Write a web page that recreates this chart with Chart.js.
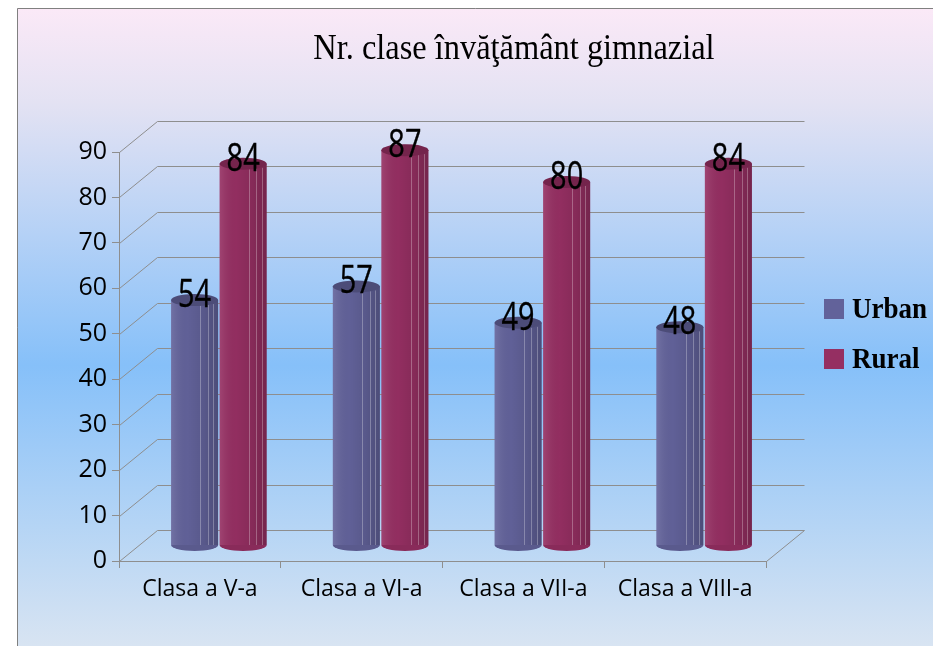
<!DOCTYPE html>
<html>
<head>
<meta charset="utf-8">
<script src="https://cdn.jsdelivr.net/npm/chart.js@4"></script>
<style>
  html, body { margin: 0; padding: 0; background: #fff; }
  #wrap { width: 933px; height: 646px; }
</style>
</head>
<body>
<div id="wrap"><canvas id="chart" width="933" height="646"></canvas></div>
<script>
// Date
const categories = ['Clasa a V-a', 'Clasa a VI-a', 'Clasa a VII-a', 'Clasa a VIII-a'];
const urbanValues = [54, 57, 49, 48];
const ruralValues = [84, 87, 80, 84];
const seriesNames = ['Urban', 'Rural'];
const titleText = 'Nr. clase învăţământ gimnazial';

const colUrban = '#62629a';
const colRural = '#952f62';
const gridColor = '#8e8e8e';

// adancimea 3D (perete din spate)
const DX = 38, DY = -31;

// fundal cu gradient + chenar
const bgPlugin = {
    id: 'bg',
    beforeDraw(chart) {
        const { ctx, width, height } = chart;
        ctx.save();
        ctx.fillStyle = '#ffffff';
        ctx.fillRect(0, 0, width, height);
        const g = ctx.createLinearGradient(0, 8, 0, height);
        g.addColorStop(0, '#fbe9f7');
        g.addColorStop(0.15, '#e3e2f3');
        g.addColorStop(0.56, '#86c0f9');
        g.addColorStop(1, '#d8e4f2');
        ctx.fillStyle = g;
        ctx.fillRect(17, 8, width - 17, height - 8);
        ctx.strokeStyle = '#808080';
        ctx.lineWidth = 1;
        ctx.beginPath();
        ctx.moveTo(17.5, height);
        ctx.lineTo(17.5, 8.5);
        ctx.lineTo(width, 8.5);
        ctx.stroke();
        ctx.restore();
    }
};

// grila 3D si deplasarea coloanelor spre mijlocul adancimii
const grid3d = {
    id: 'grid3d',
    beforeDatasetsDraw(chart) {
        const { ctx, chartArea: a, scales: { y } } = chart;
        ctx.save();
        ctx.strokeStyle = gridColor;
        ctx.lineWidth = 1;
        ctx.beginPath();
        y.ticks.forEach(t => {
            const py = Math.round(y.getPixelForValue(t.value)) + 0.5;
            ctx.moveTo(a.left + 0.5, py);
            ctx.lineTo(a.left + DX + 0.5, py + DY);
            ctx.lineTo(a.right + DX + 0.5, py + DY);
        });
        const pb = Math.round(y.getPixelForValue(0)) + 0.5;
        ctx.moveTo(a.right + 0.5, pb);
        ctx.lineTo(a.right + DX + 0.5, pb + DY);
        ctx.stroke();
        ctx.restore();

        ctx.save();
        ctx.translate(DX / 2, DY / 2);
    },
    afterDatasetsDraw(chart) {
        const { ctx } = chart;
        chart.data.datasets.forEach((ds, di) => {
            const meta = chart.getDatasetMeta(di);
            meta.data.forEach(bar => {
                const w = bar.width, l = bar.x - w / 2, r = bar.x + w / 2;
                // umbrire cilindru
                const g = ctx.createLinearGradient(l, 0, r, 0);
                g.addColorStop(0, 'rgba(255,255,255,0.10)');
                g.addColorStop(0.35, 'rgba(0,0,0,0.02)');
                g.addColorStop(0.7, 'rgba(0,0,0,0.10)');
                g.addColorStop(1, 'rgba(0,0,0,0.22)');
                ctx.fillStyle = g;
                ctx.fillRect(l, bar.y, w, bar.base - bar.y);
                // fatete
                ctx.strokeStyle = 'rgba(255,255,255,0.28)';
                ctx.lineWidth = 1;
                ctx.beginPath();
                [0.62, 0.78, 0.9].forEach(f => {
                    const xx = Math.round(l + w * f) + 0.5;
                    ctx.moveTo(xx, bar.y + 4);
                    ctx.lineTo(xx, bar.base);
                });
                ctx.stroke();
                // baza rotunjita
                ctx.fillStyle = ds.backgroundColor;
                ctx.beginPath();
                ctx.ellipse(bar.x, bar.base, w / 2, 6, 0, 0, Math.PI);
                ctx.fill();
                ctx.fillStyle = 'rgba(0,0,0,0.08)';
                ctx.fill();
                // capac
                ctx.beginPath();
                ctx.ellipse(bar.x, bar.y, w / 2, 6, 0, 0, Math.PI * 2);
                ctx.fillStyle = ds.backgroundColor;
                ctx.fill();
                ctx.fillStyle = 'rgba(0,0,0,0.22)';
                ctx.fill();
            });
        });
        // etichete valori
        ctx.fillStyle = '#000';
        ctx.strokeStyle = '#000';
        ctx.lineWidth = 0.4;
        ctx.font = '38px "Open Sans"';
        ctx.textAlign = 'center';
        ctx.textBaseline = 'middle';
        chart.data.datasets.forEach((ds, di) => {
            const meta = chart.getDatasetMeta(di);
            meta.data.forEach((bar, i) => {
                ctx.save();
                ctx.translate(bar.x, bar.y - 4);
                ctx.scale(0.76, 1);
                ctx.fillText(String(ds.data[i]), 0, 0);
                ctx.strokeText(String(ds.data[i]), 0, 0);
                ctx.restore();
            });
        });
        ctx.restore();
    },
    afterDraw(chart) {
        const { ctx } = chart;
        ctx.save();
        ctx.fillStyle = '#000';
        // titlu
        ctx.font = '36px "Liberation Serif"';
        ctx.textAlign = 'center';
        ctx.textBaseline = 'middle';
        ctx.translate(514, 50);
        ctx.scale(0.9, 1);
        ctx.fillText(titleText, 0, 0);
        ctx.restore();
        // legenda
        ctx.save();
        ctx.font = 'bold 30px "Liberation Serif"';
        ctx.textBaseline = 'middle';
        chart.data.datasets.forEach((ds, i) => {
            const yy = 309 + i * 50;
            ctx.fillStyle = ds.backgroundColor;
            ctx.fillRect(824, yy - 10, 20, 20);
            ctx.fillStyle = '#000';
            ctx.save();
            ctx.translate(852, yy + 1);
            ctx.scale(0.9, 1);
            ctx.fillText(ds.label, 0, 0);
            ctx.restore();
        });
        ctx.restore();
    }
};

new Chart(document.getElementById('chart'), {
    type: 'bar',
    data: {
        labels: categories,
        datasets: [
            { label: seriesNames[0], data: urbanValues, backgroundColor: colUrban, clip: false },
            { label: seriesNames[1], data: ruralValues, backgroundColor: colRural, clip: false }
        ]
    },
    options: {
        responsive: false,
        animation: false,
        layout: { padding: { left: 0, top: 152, right: 167, bottom: 0 } },
        datasets: { bar: { categoryPercentage: 0.6, barPercentage: 0.97 } },
        plugins: { legend: { display: false }, tooltip: { enabled: false } },
        scales: {
            x: {
                afterFit: s => { s.height = 85; },
                grid: { display: true, drawOnChartArea: false, tickLength: 7, color: gridColor },
                border: { color: gridColor },
                ticks: { color: '#000', font: { family: 'Open Sans', size: 23 }, padding: 8, maxRotation: 0 }
            },
            y: {
                min: 0, max: 90,
                afterFit: s => { s.width = 119; },
                grid: { display: true, drawOnChartArea: false, tickLength: 7, color: gridColor },
                border: { color: gridColor },
                ticks: { stepSize: 10, color: '#000', font: { family: 'Open Sans', size: 25 }, padding: 5 }
            }
        }
    },
    plugins: [bgPlugin, grid3d]
});
</script>
</body>
</html>
